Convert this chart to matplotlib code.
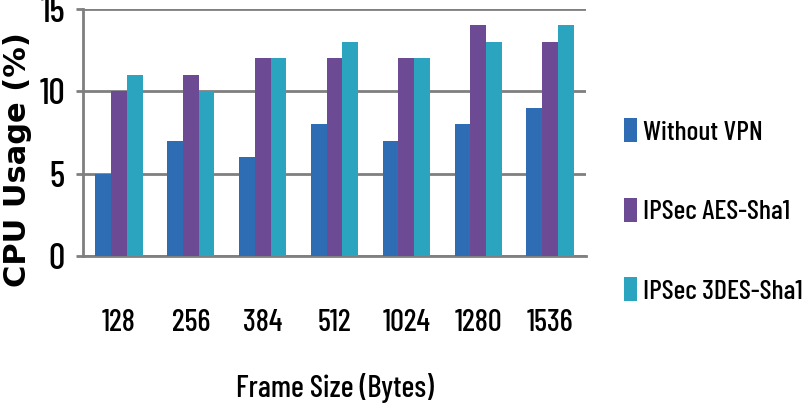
import matplotlib
matplotlib.use("Agg")
import matplotlib.pyplot as plt
import numpy as np

categories = ["128", "256", "384", "512", "1024", "1280", "1536"]
series_names = ["Without VPN", "IPSec AES-Sha1", "IPSec 3DES-Sha1"]
without_vpn = [5, 7, 6, 8, 7, 8, 9]
ipsec_aes = [10, 11, 12, 12, 12, 14, 13]
ipsec_3des = [11, 10, 12, 13, 12, 13, 14]
colors = ["#2E6DB4", "#6C4A94", "#2AA4BF"]

narrow = ["Barlow Condensed", "Roboto Condensed", "Archivo Narrow", "PT Sans Narrow",
          "IBM Plex Sans Condensed", "DejaVu Sans"]
grid_col = "#7F7F7F"
tw = 500

fig = plt.figure(figsize=(8.07, 4.16), dpi=100)
ax = fig.add_axes([83/807, 1-256/416, (586-83)/807, (256-9)/416])

x = np.arange(len(categories))
w = 0.22
for i, (vals, name) in enumerate(zip([without_vpn, ipsec_aes, ipsec_3des], series_names)):
    ax.bar(x + (i-1)*w, vals, width=w, color=colors[i], label=name, zorder=3)

ax.set_xlim(-0.5, len(categories)-0.5)
ax.set_ylim(0, 15)
ax.set_yticks([0, 5, 10, 15])
ax.yaxis.grid(True, color=grid_col, linewidth=2, zorder=0)
ax.set_axisbelow(True)
for s in ["top", "right"]:
    ax.spines[s].set_visible(False)
ax.spines["left"].set_color(grid_col)
ax.spines["left"].set_linewidth(2)
ax.spines["bottom"].set_color(grid_col)
ax.spines["bottom"].set_linewidth(2)

ax.set_xticks(x)
ax.set_xticklabels(categories, family=narrow, fontsize=22, fontweight=tw)
ax.tick_params(axis="x", length=0, pad=38)
ax.tick_params(axis="y", length=5, width=2, color=grid_col, pad=8)
for lab in ax.get_yticklabels():
    lab.set_family(narrow)
    lab.set_fontsize(26)
    lab.set_fontweight(tw)

ax.set_xlabel("Frame Size (Bytes)", family=narrow, fontsize=22, fontweight=tw)
ax.xaxis.label.set_va("center")
ax.xaxis.set_label_coords(0.501, -0.534)
ax.set_ylabel("CPU Usage (%)", family="DejaVu Sans", fontweight="bold", fontsize=22)
ax.yaxis.label.set_va("center")
ax.yaxis.set_label_coords(-0.131, 0.389)

leg = ax.legend(loc="center left", bbox_to_anchor=(610/807, 1-211/416),
                bbox_transform=fig.transFigure, frameon=False,
                prop={"family": narrow, "size": 20, "weight": tw},
                handlelength=0.47, handleheight=0.95, handletextpad=0.22,
                labelspacing=1.9, borderpad=0)

fig.savefig("out.png", dpi=100)
